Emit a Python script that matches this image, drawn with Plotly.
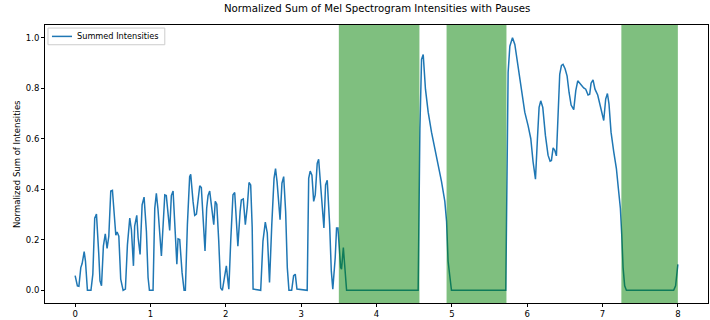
import plotly.graph_objects as go

# Time axis (seconds) and normalized summed mel intensities
time_s = [
    0.00, 0.03, 0.05, 0.075, 0.093, 0.12, 0.137, 0.163, 0.21, 0.235,
    0.26, 0.283, 0.314, 0.33, 0.35, 0.375, 0.40, 0.424, 0.447, 0.473,
    0.495, 0.54, 0.557, 0.58, 0.605, 0.637, 0.667, 0.694, 0.725, 0.747,
    0.774, 0.79, 0.818, 0.836, 0.862, 0.889, 0.915, 0.946, 0.968, 0.986,
    1.034, 1.057, 1.078, 1.10, 1.145, 1.19, 1.21, 1.255, 1.277, 1.30,
    1.33, 1.35, 1.366, 1.388, 1.419, 1.446, 1.463, 1.49, 1.52, 1.534,
    1.565, 1.587, 1.61, 1.63, 1.654, 1.675, 1.707, 1.724, 1.746, 1.764,
    1.786, 1.817, 1.84, 1.86, 1.88, 1.906, 1.932, 1.954, 1.985, 2.007,
    2.03, 2.04, 2.065, 2.095, 2.118, 2.145, 2.16, 2.19, 2.206, 2.232,
    2.259, 2.285, 2.308, 2.33, 2.35, 2.362, 2.463, 2.493, 2.524, 2.55,
    2.58, 2.61, 2.64, 2.66, 2.68, 2.72, 2.745, 2.768, 2.794, 2.816,
    2.838, 2.874, 2.90, 2.922, 2.944, 3.08, 3.10, 3.12, 3.143, 3.166,
    3.187, 3.213, 3.232, 3.258, 3.302, 3.324, 3.346, 3.378, 3.40, 3.42,
    3.452, 3.47, 3.488, 3.524, 3.536, 3.56, 3.577, 3.603, 4.553, 4.576,
    4.598, 4.62, 4.65, 4.686, 4.73, 4.775, 4.82, 4.863, 4.907, 4.93,
    4.95, 4.995, 5.716, 5.747, 5.77, 5.805, 5.836, 5.88, 5.924, 5.968,
    6.012, 6.048, 6.078, 6.11, 6.136, 6.158, 6.18, 6.207, 6.242, 6.277,
    6.304, 6.322, 6.344, 6.366, 6.388, 6.41, 6.432, 6.455, 6.476, 6.503,
    6.53, 6.556, 6.583, 6.618, 6.645, 6.671, 6.698, 6.724, 6.75, 6.777,
    6.808, 6.83, 6.848, 6.874, 6.90, 6.936, 6.963, 6.989, 7.016, 7.042,
    7.065, 7.086, 7.113, 7.149, 7.184, 7.21, 7.237, 7.255, 7.273, 7.294,
    7.317, 7.944, 7.97, 8.0,
]

intensity = [
    0.058, 0.018, 0.016, 0.09, 0.106, 0.153, 0.116, 0.0, 0.0, 0.064,
    0.286, 0.302, 0.142, 0.038, 0.018, 0.175, 0.224, 0.166, 0.214, 0.393,
    0.396, 0.218, 0.231, 0.214, 0.044, 0.0, 0.005, 0.18, 0.286, 0.24,
    0.097, 0.254, 0.297, 0.208, 0.142, 0.338, 0.369, 0.234, 0.051, 0.0,
    0.0, 0.325, 0.384, 0.32, 0.136, 0.378, 0.375, 0.237, 0.375, 0.393,
    0.221, 0.103, 0.204, 0.201, 0.071, 0.0, 0.0, 0.26, 0.45, 0.459,
    0.352, 0.297, 0.302, 0.365, 0.414, 0.407, 0.234, 0.156, 0.325, 0.375,
    0.393, 0.30, 0.26, 0.352, 0.341, 0.195, 0.009, 0.0, 0.058, 0.097,
    0.031, 0.005, 0.195, 0.378, 0.387, 0.234, 0.175, 0.312, 0.358, 0.362,
    0.26, 0.332, 0.427, 0.417, 0.25, 0.005, 0.0, 0.195, 0.27, 0.227,
    0.031, 0.26, 0.443, 0.482, 0.43, 0.28, 0.424, 0.45, 0.312, 0.09,
    0.0, 0.0, 0.058, 0.064, 0.005, 0.0, 0.443, 0.472, 0.456, 0.352,
    0.378, 0.502, 0.519, 0.417, 0.247, 0.417, 0.436, 0.26, 0.077, 0.005,
    0.129, 0.247, 0.247, 0.09, 0.084, 0.169, 0.103, 0.0, 0.0, 0.639,
    0.914, 0.933, 0.796, 0.705, 0.626, 0.561, 0.495, 0.43, 0.352, 0.273,
    0.116, 0.0, 0.0, 0.862, 0.966, 1.0, 0.973, 0.888, 0.796, 0.705,
    0.652, 0.60, 0.509, 0.44, 0.60, 0.724, 0.75, 0.724, 0.613, 0.535,
    0.511, 0.514, 0.564, 0.554, 0.532, 0.705, 0.855, 0.89, 0.894, 0.877,
    0.848, 0.783, 0.733, 0.715, 0.79, 0.829, 0.82, 0.809, 0.801, 0.796,
    0.773, 0.776, 0.82, 0.833, 0.796, 0.773, 0.737, 0.698, 0.672, 0.757,
    0.779, 0.737, 0.626, 0.548, 0.482, 0.404, 0.325, 0.221, 0.09, 0.018,
    0.0, 0.0, 0.018, 0.103,
]

# Detected pause intervals (start, end) in seconds
pause_starts = [3.50, 4.93, 7.25]
pause_ends = [4.57, 5.725, 8.0]

x_ticks = [0, 1, 2, 3, 4, 5, 6, 7, 8]
y_ticks = [0.0, 0.2, 0.4, 0.6, 0.8, 1.0]
y_tick_labels = ["0.0", "0.2", "0.4", "0.6", "0.8", "1.0"]

FONT = "DejaVu Sans"
LINE_COLOR = "#1f77b4"
SERIES_NAME = "Summed Intensities"

fig = go.Figure()
fig.add_trace(go.Scatter(
    x=time_s, y=intensity, mode="lines", name=SERIES_NAME,
    line=dict(color=LINE_COLOR, width=1.5), showlegend=False,
))

for s, e in zip(pause_starts, pause_ends):
    fig.add_shape(
        type="rect", xref="x", yref="paper", x0=s, x1=e, y0=0, y1=1,
        fillcolor="green", opacity=0.5, line=dict(width=0), layer="above",
    )

# Compact legend box in the upper-left corner of the axes
fig.add_shape(type="rect", xref="paper", yref="paper",
              x0=0.0045, x1=0.1807, y0=0.929, y1=0.989,
              fillcolor="rgba(255,255,255,0.8)",
              line=dict(color="#cccccc", width=1), layer="above")
fig.add_shape(type="line", xref="paper", yref="paper",
              x0=0.0105, x1=0.0407, y0=0.959, y1=0.959,
              line=dict(color=LINE_COLOR, width=1.5), layer="above")

axis_common = dict(
    showgrid=False, zeroline=False, showline=True, mirror=True,
    linecolor="black", linewidth=0.8, ticks="outside", ticklen=3,
    tickwidth=0.7, tickcolor="black",
    tickfont=dict(family=FONT, size=8.5, color="black"),
)

fig.update_layout(
    width=710, height=320,
    margin=dict(l=45, r=1, t=25, b=15),
    paper_bgcolor="white", plot_bgcolor="white",
    font=dict(family=FONT, color="black"),
    showlegend=False,
    xaxis=dict(range=[-0.4, 8.4], tickvals=x_ticks, **axis_common),
    yaxis=dict(range=[-0.05, 1.05], tickvals=y_ticks, ticktext=y_tick_labels,
               **axis_common),
    annotations=[
        dict(text="Normalized Sum of Mel Spectrogram Intensities with Pauses",
             xref="paper", yref="paper", x=0.5, y=1, yshift=9,
             xanchor="center", yanchor="bottom", showarrow=False,
             font=dict(family=FONT, size=10.2, color="black")),
        dict(text="Normalized Sum of Intensities", xref="paper", yref="paper",
             x=0, y=0.5, xshift=-28, textangle=-90, xanchor="center",
             yanchor="middle", showarrow=False,
             font=dict(family=FONT, size=8.5, color="black")),
        dict(text=SERIES_NAME, xref="paper", yref="paper",
             x=0.0455, y=0.959, xanchor="left", yanchor="middle",
             showarrow=False,
             font=dict(family=FONT, size=8.2, color="black")),
    ],
)

fig.write_html("out.html")
